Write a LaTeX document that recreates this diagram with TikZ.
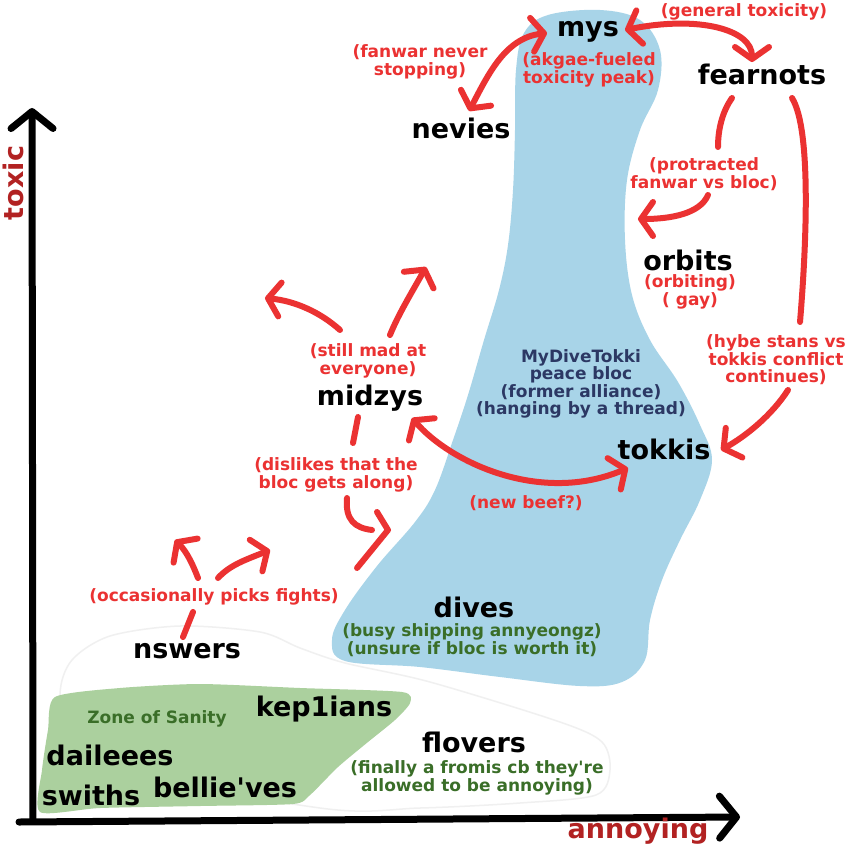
\documentclass[tikz,border=0pt]{standalone}
\usepackage{fontspec}
\setmainfont{DejaVu Sans}
\usetikzlibrary{arrows.meta}
\definecolor{fanred}{HTML}{EB3232}
\definecolor{axisred}{HTML}{B22222}
\definecolor{blocblue}{HTML}{2C3864}
\definecolor{sanegreen}{HTML}{3A6E28}
\definecolor{blobblue}{HTML}{A8D4E8}
\definecolor{blobgreen}{HTML}{ABD09E}

\begin{document}
\begin{tikzpicture}[x=1pt,y=-1pt,
 every node/.style={inner sep=0pt},
 fan/.style={font=\bfseries\fontsize{27}{30}\selectfont,anchor=base},
 note/.style={text=fanred,font=\bfseries\fontsize{17}{17.5}\selectfont,align=center},
 bloc/.style={note,text=blocblue},
 sane/.style={note,text=sanegreen},
 axislab/.style={fan,text=axisred},
 beef/.style={draw=fanred,line width=6pt,line cap=round,line join=round},
 barb/.style={-{Straight Barb[length=12pt,width=34pt,round]}},
 barbs/.style={{Straight Barb[length=12pt,width=34pt,round]}-{Straight Barb[length=12pt,width=34pt,round]}},
 axis/.style={draw=black,line width=7pt,line cap=round,-{Straight Barb[length=17pt,width=42pt,round]}}]
\fill[white] (0,0) rectangle (850,850);
\useasboundingbox (0,0) rectangle (850,850);

% regions
\draw[black!6,fill=white,line width=1.5pt] plot[smooth cycle] coordinates {(60,695) (72,660) (110,636) (180,626) (260,632) (300,648) (345,663) (430,682) (560,722) (602,742) (610,770) (596,795) (520,803) (420,808) (320,808) (70,760)};
\fill[blobblue] plot[smooth cycle,tension=0.6] coordinates {(548,15) (600,10) (640,20) (660,50) (658,90) (640,130) (627,180) (625,240) (632,295) (650,340) (678,382) (700,425) (712,460) (700,500) (680,540) (662,580) (650,620) (645,660) (622,682) (580,686) (500,677) (420,667) (345,661) (332,640) (345,610) (377,566) (415,522) (435,490) (453,440) (468,395) (484,340) (499,290) (508,245) (513,190) (515,130) (516,70) (524,33)};
\fill[blobgreen] plot[smooth cycle,tension=0.4] coordinates {(55,697) (120,688) (200,684) (300,688) (402,692) (410,703) (395,720) (368,742) (338,767) (310,795) (293,804) (200,806) (100,808) (40,812) (42,770) (48,730)};

% axes
\coordinate (orig) at (33,821);
\coordinate (ytop) at (32,108);
\coordinate (xend) at (740,817);
\draw[axis] (orig) -- (ytop);
\draw[axis] (19,822) -- (xend);
\node[axislab,rotate=90] (toxic) at (23,183) {toxic};
\node[axislab] (annoying) at (638,838) {annoying};

% fandoms
\foreach \n/\x/\y/\t in {mys/588/37/mys,fearnots/762/85/fearnots,nevies/461/139/nevies,
 orbits/688/270/orbits,tokkis/664/459/tokkis,midzys/370/405/midzys,nswers/187/658/nswers,
 dives/474/617/dives,kepians/324/716/kep1ians,daileees/110/765/daileees,
 swiths/91/805/swiths,bellieves/225/797/bellie\textquotesingle ves,flovers/474/752/flovers}
 \node[fan] (\n) at (\x,\y) {\t};

% notes
\node[note] (akgae) at (589,70) {(akgae-fueled\\toxicity peak)};
\node[note,anchor=base] (general) at (744,17) {(general toxicity)};
\node[note] (fanwar) at (420,62) {(fanwar never\\stopping)};
\node[note] (protracted) at (704,174) {(protracted\\fanwar vs bloc)};
\node[note] (orbiting) at (690,292) {(orbiting)\\( gay)};
\node[note] (hybe) at (776,360) {(hybe stans vs\\tokkis conflict\\continues)};
\node[bloc] (peace) at (581,384) {MyDiveTokki\\peace bloc\\(former alliance)\\(hanging by a thread)};
\node[note] (stillmad) at (368,361) {(still mad at\\everyone)};
\node[note] (dislikes) at (336,475) {(dislikes that the\\bloc gets along)};
\node[note,anchor=base] (newbeef) at (526,508) {(new beef?)};
\node[note,anchor=base] (fights) at (214,601) {(occasionally picks fights)};
\node[sane] (shipping) at (472,640) {(busy shipping annyeongz)\\(unsure if bloc is worth it)};
\node[sane,anchor=base] (zone) at (157,723) {Zone of Sanity};
\node[sane] (fromis) at (477,778) {(finally a fromis cb they\textquotesingle re\\allowed to be annoying)};

% beef
\coordinate (m1) at (547,33); \coordinate (n1) at (469,111);
\coordinate (m2) at (625,30); \coordinate (f1) at (752,62);
\coordinate (f2) at (732,98); \coordinate (p1) at (718,147);
\coordinate (p2) at (708,195); \coordinate (o1) at (638,219);
\coordinate (f3) at (792,98); \coordinate (h1) at (800,322);
\coordinate (h2) at (788,390); \coordinate (t1) at (721,450);
\coordinate (z1) at (412,418); \coordinate (t2) at (628,468);
\coordinate (s1) at (340,330); \coordinate (s2) at (265,298);
\coordinate (s3) at (390,335); \coordinate (s4) at (426,267);
\coordinate (z2) at (358,417); \coordinate (d1) at (353,443);
\coordinate (d2) at (347,498); \coordinate (d3) at (372,530);
\coordinate (w1) at (198,578); \coordinate (w2) at (175,540);
\coordinate (w3) at (218,578); \coordinate (w4) at (270,550);
\coordinate (w5) at (193,612); \coordinate (w6) at (183,637);
\draw[beef,barbs] (m1) .. controls (505,38) and (488,75) .. (n1);
\draw[beef,barbs] (m2) .. controls (700,15) and (752,30) .. (f1);
\draw[beef] (f2) .. controls (722,112) and (718,130) .. (p1);
\draw[beef,barb] (p2) .. controls (700,214) and (670,219) .. (o1);
\draw[beef] (f3) .. controls (812,130) and (806,250) .. (h1);
\draw[beef,barb] (h2) .. controls (772,415) and (746,436) .. (t1);
\draw[beef,barbs] (z1) .. controls (450,462) and (540,505) .. (t2);
\draw[beef,barb] (s1) .. controls (320,312) and (295,301) .. (s2);
\draw[beef,barb] (s3) .. controls (398,315) and (412,292) .. (s4);
\draw[beef] (z2) -- (d1);
\draw[beef] (d2) .. controls (345,520) and (355,528) .. (d3);
\draw[beef] (377,512) -- (388,530) -- (357,568);
\draw[beef,barb] (w1) .. controls (193,565) and (187,552) .. (w2);
\draw[beef,barb] (w3) .. controls (230,565) and (245,560) .. (w4);
\draw[beef] (w5) -- (w6);
\end{tikzpicture}
\end{document}
